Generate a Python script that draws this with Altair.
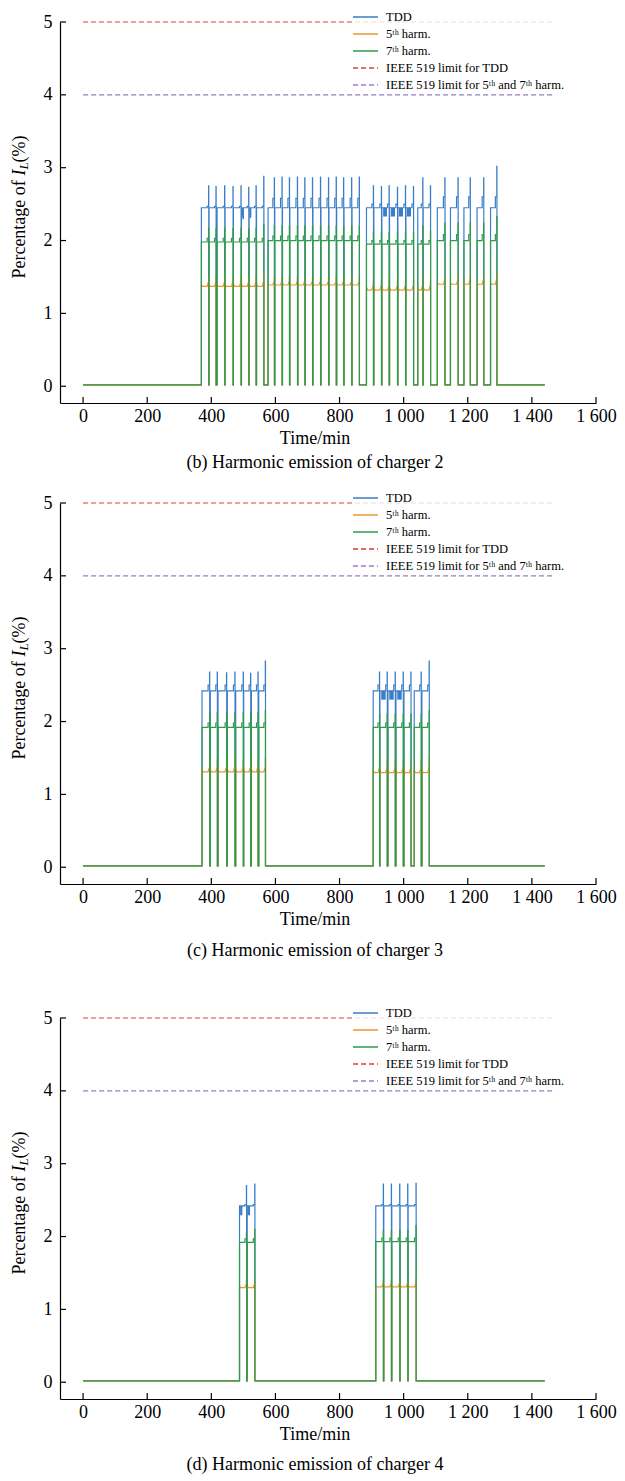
import altair as alt
import pandas as pd

FONT = "Liberation Serif"
SERIES = ["TDD", "5ᵗʰ harm.", "7ᵗʰ harm.",
          "IEEE 519 limit for TDD", "IEEE 519 limit for 5ᵗʰ and 7ᵗʰ harm."]
COLORS = ["#3b7ec8", "#ec9832", "#2e9c45", "#d8423c", "#9b7bc6"]
DASHES = [[1, 0], [1, 0], [1, 0], [5, 3], [5, 3]]
X_TICKS = [0, 200, 400, 600, 800, 1000, 1200, 1400, 1600]
Y_TICKS = [0, 1, 2, 3, 4, 5]
X_DOMAIN = [-72, 1600]
Y_DOMAIN = [-0.23, 5]
LIMIT_VALUES = [5.0, 4.0]
LIMIT_T = [0, 1465]
DAY_END = 1440
ZERO = 0.02

# ---------------- charger 2 ----------------
B_START = [369, 393, 418, 443, 469, 494, 518, 541,
           577, 598, 622, 645, 670, 693, 717, 742, 767, 791, 814, 839,
           884, 907, 932, 956, 982, 1007, 1044, 1061,
           1105, 1146, 1188, 1229, 1271]
B_END = [392, 415, 442, 468, 493, 517, 540, 564,
         597, 621, 644, 669, 692, 716, 741, 766, 790, 813, 838, 862,
         906, 931, 955, 981, 1006, 1031, 1060, 1084,
         1129, 1170, 1208, 1250, 1291]
B_GROUP = [0, 0, 0, 0, 0, 0, 0, 0,
           1, 1, 1, 1, 1, 1, 1, 1, 1, 1, 1, 1,
           2, 2, 2, 2, 2, 2, 2, 2,
           3, 3, 3, 3, 3]
B_TDD_SPIKE = [2.75, 2.74, 2.75, 2.74, 2.75, 2.73, 2.75, 2.88,
               2.86, 2.87, 2.86, 2.87, 2.86, 2.86, 2.87, 2.86, 2.87, 2.86, 2.86, 2.87,
               2.75, 2.74, 2.75, 2.73, 2.75, 2.74, 2.86, 2.75,
               2.86, 2.86, 2.86, 2.86, 3.02]
B_H7_SPIKE = [2.17, 2.16, 2.17, 2.16, 2.17, 2.16, 2.17, 2.22,
              2.2, 2.2, 2.2, 2.2, 2.2, 2.2, 2.2, 2.2, 2.2, 2.2, 2.2, 2.2,
              2.12, 2.12, 2.11, 2.12, 2.12, 2.11, 2.2, 2.13,
              2.24, 2.24, 2.24, 2.24, 2.33]
B_H5_SPIKE = [1.5, 1.5, 1.5, 1.5, 1.5, 1.5, 1.5, 1.56,
              1.5, 1.5, 1.5, 1.5, 1.5, 1.5, 1.5, 1.5, 1.5, 1.5, 1.5, 1.5,
              1.45, 1.45, 1.45, 1.45, 1.45, 1.45, 1.5, 1.45,
              1.52, 1.52, 1.52, 1.52, 1.58]
B_TDD_BASE = [2.45, 2.45, 2.45, 2.45]
B_TDD_STEP = [2.47, 2.58, 2.5, 2.6]
B_H7_BASE = [1.98, 2.0, 1.95, 2.0]
B_H7_END = [2.03, 2.06, 2.0, 2.08]
B_H5_START = [1.4, 1.41, 1.36, 1.42]
B_H5_LOW = [1.37, 1.39, 1.32, 1.4]
B_H5_END = [1.42, 1.43, 1.37, 1.45]
B_DIP_T = [496, 499, 522]
B_DIP_V = [2.33, 2.3, 2.32]
B_DIP_W = [1, 1, 1]
B_BAND_T0 = [936, 960, 985, 1010]
B_BAND_T1 = [948, 973, 998, 1023]
B_BAND_LO = 2.33
B_BAND_HI = 2.45

# ---------------- charger 3 ----------------
C_START = [371, 397, 421, 450, 476, 501, 525, 548,
           905, 926, 951, 976, 1001, 1033, 1057]
C_END = [395, 419, 448, 474, 500, 523, 546, 569,
         925, 949, 974, 999, 1023, 1055, 1080]
C_GROUP = [0, 0, 0, 0, 0, 0, 0, 0, 1, 1, 1, 1, 1, 1, 1]
C_TDD_SPIKE = [2.68, 2.68, 2.67, 2.68, 2.68, 2.66, 2.68, 2.83,
               2.68, 2.68, 2.68, 2.68, 2.68, 2.68, 2.83]
C_H7_SPIKE = [2.12, 2.12, 2.12, 2.12, 2.12, 2.12, 2.12, 2.15,
              2.1, 2.1, 2.1, 2.1, 2.1, 2.1, 2.15]
C_H5_SPIKE = [1.48, 1.48, 1.48, 1.48, 1.48, 1.48, 1.48, 1.5,
              1.46, 1.46, 1.46, 1.46, 1.46, 1.46, 1.5]
C_TDD_BASE = [2.42, 2.42]
C_TDD_STEP = [2.5, 2.5]
C_H7_BASE = [1.92, 1.92]
C_H7_END = [1.98, 1.98]
C_H5_START = [1.34, 1.33]
C_H5_LOW = [1.31, 1.3]
C_H5_END = [1.36, 1.35]
C_DIP_T = [496, 519]
C_DIP_V = [2.26, 2.24]
C_DIP_W = [1.5, 1.5]
C_BAND_T0 = [930, 955, 980]
C_BAND_T1 = [944, 969, 994]
C_BAND_LO = 2.3
C_BAND_HI = 2.42

# ---------------- charger 4 ----------------
D_START = [488, 512, 913, 938, 963, 989, 1014]
D_END = [510, 536, 937, 962, 988, 1013, 1039]
D_GROUP = [0, 0, 1, 1, 1, 1, 1]
D_TDD_SPIKE = [2.7, 2.72, 2.72, 2.72, 2.72, 2.72, 2.73]
D_H7_SPIKE = [2.06, 2.1, 2.08, 2.08, 2.08, 2.08, 2.15]
D_H5_SPIKE = [1.4, 1.42, 1.4, 1.4, 1.4, 1.4, 1.43]
D_TDD_BASE = [2.42, 2.42]
D_TDD_STEP = [2.44, 2.44]
D_H7_BASE = [1.92, 1.93]
D_H7_END = [1.97, 1.98]
D_H5_START = [1.32, 1.33]
D_H5_LOW = [1.3, 1.31]
D_H5_END = [1.34, 1.35]
D_DIP_T = [492, 516]
D_DIP_V = [2.3, 2.3]
D_DIP_W = [3, 3]
D_BAND_T0 = []
D_BAND_T1 = []
D_BAND_LO = 2.3
D_BAND_HI = 2.42

CAPTIONS = ["(b) Harmonic emission of charger 2",
            "(c) Harmonic emission of charger 3",
            "(d) Harmonic emission of charger 4"]

W, H = 536, 381


def series_frames(p):
    tdd, h5, h7 = [(0, ZERO)], [(0, ZERO)], [(0, ZERO)]
    for k, (s, e) in enumerate(zip(p["start"], p["end"])):
        g = p["group"][k]
        tb, ts = p["tdd_base"][g], p["tdd_step"][g]
        tdd += [(s, ZERO), (s, tb)]
        for bt, bv, bw in zip(p["dip_t"], p["dip_v"], p["dip_w"]):
            if s < bt < e - 6:
                tdd += [(bt, tb), (bt, bv), (bt + bw, bv), (bt + bw, tb)]
        tdd += [(e - 5, tb), (e - 5, ts), (e - 0.5, ts),
                (e - 0.5, p["tdd_spike"][k]), (e, p["tdd_spike"][k]), (e, ZERO)]
        hb, he = p["h7_base"][g], p["h7_end"][g]
        h7 += [(s, ZERO), (s, hb), (e - 5, hb), (e - 5, he), (e - 0.5, he),
               (e - 0.5, p["h7_spike"][k]), (e, p["h7_spike"][k]), (e, ZERO)]
        lo = p["h5_low"][g]
        h5 += [(s, ZERO), (s, p["h5_start"][g]), (s + 4, lo), (e - 5, lo),
               (e - 2, p["h5_end"][g]), (e - 0.5, p["h5_end"][g]),
               (e - 0.5, p["h5_spike"][k]), (e, p["h5_spike"][k]), (e, ZERO)]
    tdd.append((DAY_END, ZERO))
    h5.append((DAY_END, ZERO))
    h7.append((DAY_END, ZERO))
    frames = []
    for name, pts in zip(SERIES[:3], [tdd, h5, h7]):
        frames.append(pd.DataFrame({"t": [a for a, _ in pts], "v": [b for _, b in pts],
                                    "series": name, "i": list(range(len(pts)))}))
    rows = []
    for name, val in zip(SERIES[3:], LIMIT_VALUES):
        for j, t in enumerate(LIMIT_T):
            rows.append({"t": t, "v": val, "series": name, "i": j})
    frames.append(pd.DataFrame(rows))
    return frames


x_axis = alt.Axis(values=X_TICKS, labelExpr="replace(format(datum.value, ','), ',', ' ')",
                  ticks=False, grid=False, title=None, labelFont=FONT, labelFontSize=18,
                  labelColor="black", domainColor="black", domainWidth=1.2,
                  labelPadding=4, labelFlush=False, labelOverlap=False)
y_axis = alt.Axis(values=Y_TICKS, format="d", ticks=False, grid=False, title=None,
                  labelFont=FONT, labelFontSize=18, labelColor="black",
                  domainColor="black", domainWidth=1.2, labelPadding=8)
x_scale = alt.Scale(domain=X_DOMAIN, nice=False, zero=False)
y_scale = alt.Scale(domain=Y_DOMAIN, nice=False, zero=False)

legend = alt.Legend(title=None, orient="none", legendX=292, legendY=-13.5,
                    direction="vertical", symbolType="stroke", symbolStrokeWidth=1.5,
                    symbolSize=625, labelFont=FONT, labelFontSize=12.5,
                    labelColor="black", labelOffset=7, rowPadding=0, clipHeight=17,
                    fillColor="rgba(255,255,255,0.8)", padding=0, labelLimit=400)


def X(field):
    return alt.X(field, scale=x_scale, axis=x_axis)


def Y(field):
    return alt.Y(field, scale=y_scale, axis=y_axis)


def text_layer(txt, x, y, size=18, style="normal", angle=0, align="center"):
    return alt.Chart(pd.DataFrame({"label": [txt]})).mark_text(
        font=FONT, fontSize=size, fontStyle=style, angle=angle, align=align,
        baseline="middle", color="black").encode(
        text="label:N", x=alt.value(x), y=alt.value(y))


def panel(p, caption, caption_y, spacer=None):
    frames = series_frames(p)
    color = alt.Color("series:N", scale=alt.Scale(domain=SERIES, range=COLORS), legend=legend)
    dash = alt.StrokeDash("series:N", scale=alt.Scale(domain=SERIES, range=DASHES), legend=legend)
    layers = []
    if p["band_t0"]:
        band = pd.DataFrame({"t": p["band_t0"], "t1": p["band_t1"],
                             "v": p["band_lo"], "v1": p["band_hi"]})
        layers.append(alt.Chart(band).mark_rect(color=COLORS[0]).encode(
            x=X("t:Q"), x2="t1:Q", y=Y("v:Q"), y2="v1:Q"))
    for df in frames:
        layers.append(alt.Chart(df).mark_line(strokeWidth=1.2).encode(
            x=X("t:Q"), y=Y("v:Q"), color=color, strokeDash=dash, order="i:Q"))
    layers.append(alt.Chart(pd.DataFrame({"t": X_TICKS})).mark_rule(
        color="black", strokeWidth=1.2).encode(x=X("t:Q"), y=alt.value(H), y2=alt.value(H - 6)))
    layers.append(alt.Chart(pd.DataFrame({"v": Y_TICKS})).mark_rule(
        color="black", strokeWidth=1.2).encode(y=Y("v:Q"), x=alt.value(0), x2=alt.value(6)))
    layers.append(text_layer("Time/min", 255, 417))
    layers.append(text_layer(caption, 255, caption_y))
    layers.append(text_layer("Percentage of ", -40, 256.6, angle=270, align="left"))
    layers.append(text_layer("I", -40, 153.6, style="italic", angle=270, align="left"))
    layers.append(text_layer("L", -36, 147.6, size=13, style="italic", angle=270, align="left"))
    layers.append(text_layer("(%)", -40, 140.4, angle=270, align="left"))
    if spacer is not None:
        layers.append(alt.Chart(pd.DataFrame({"label": ["s"]})).mark_rule(
            color="white", strokeWidth=0.5).encode(
            x=alt.value(0), y=alt.value(spacer), y2=alt.value(spacer + 1)))
    return alt.layer(*layers).properties(width=W, height=H)


def spec(start, end, group, tsp, h7sp, h5sp, tb, ts, h7b, h7e, h5s, h5l, h5e,
         dt, dv, dw, b0, b1, blo, bhi):
    return {"start": start, "end": end, "group": group, "tdd_spike": tsp,
            "h7_spike": h7sp, "h5_spike": h5sp, "tdd_base": tb, "tdd_step": ts,
            "h7_base": h7b, "h7_end": h7e, "h5_start": h5s, "h5_low": h5l,
            "h5_end": h5e, "dip_t": dt, "dip_v": dv, "dip_w": dw,
            "band_t0": b0, "band_t1": b1, "band_lo": blo, "band_hi": bhi}


pb = spec(B_START, B_END, B_GROUP, B_TDD_SPIKE, B_H7_SPIKE, B_H5_SPIKE, B_TDD_BASE,
          B_TDD_STEP, B_H7_BASE, B_H7_END, B_H5_START, B_H5_LOW, B_H5_END,
          B_DIP_T, B_DIP_V, B_DIP_W, B_BAND_T0, B_BAND_T1, B_BAND_LO, B_BAND_HI)
pc = spec(C_START, C_END, C_GROUP, C_TDD_SPIKE, C_H7_SPIKE, C_H5_SPIKE, C_TDD_BASE,
          C_TDD_STEP, C_H7_BASE, C_H7_END, C_H5_START, C_H5_LOW, C_H5_END,
          C_DIP_T, C_DIP_V, C_DIP_W, C_BAND_T0, C_BAND_T1, C_BAND_LO, C_BAND_HI)
pd_ = spec(D_START, D_END, D_GROUP, D_TDD_SPIKE, D_H7_SPIKE, D_H5_SPIKE, D_TDD_BASE,
           D_TDD_STEP, D_H7_BASE, D_H7_END, D_H5_START, D_H5_LOW, D_H5_END,
           D_DIP_T, D_DIP_V, D_DIP_W, D_BAND_T0, D_BAND_T1, D_BAND_LO, D_BAND_HI)

chart = alt.vconcat(
    panel(pb, CAPTIONS[0], 441),
    panel(pc, CAPTIONS[1], 448),
    panel(pd_, CAPTIONS[2], 447, spacer=-40),
    spacing=17,
).resolve_scale(
    color="independent", strokeDash="independent"
).resolve_legend(
    color="independent", strokeDash="independent"
).properties(
    padding={"left": 3, "top": 0, "right": 0, "bottom": 0}, background="white"
).configure_view(stroke=None)

chart.save("out.html", embed_options={"renderer": "svg", "actions": False})
